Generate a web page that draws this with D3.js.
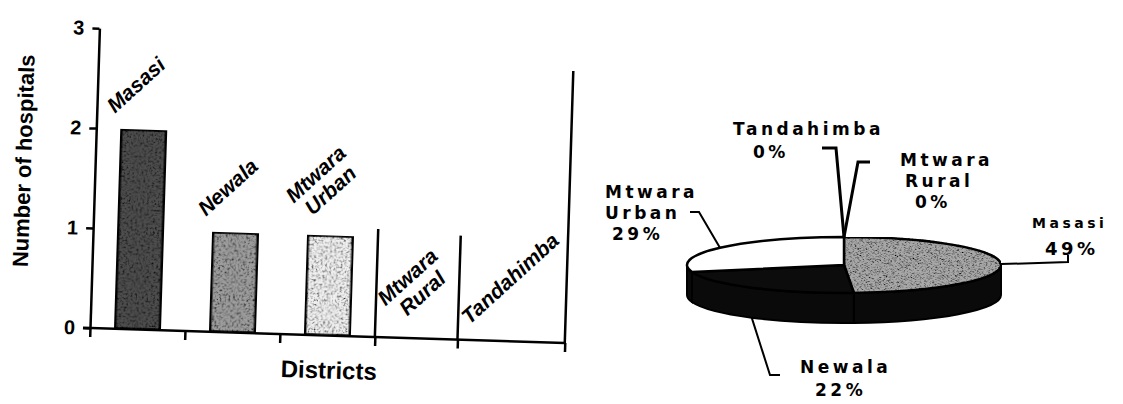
<!DOCTYPE html>
<html lang="en">
<head>
<meta charset="utf-8">
<title>Hospitals by district</title>
<style>
  body { margin: 0; background: #fff; }
  svg { display: block; }
  .axis path, .axis line { stroke: #000; stroke-width: 2.5px; }
  .axis text { font: bold 20px "Liberation Sans", Arial, sans-serif; fill: #000; }
  .bar-label { font: italic bold 21px "Liberation Sans", Arial, sans-serif; fill: #000; }
  .axis-title { font: bold 22px "Liberation Sans", Arial, sans-serif; fill: #000; }
  .pie-label { font-family: "DejaVu Sans", sans-serif; font-weight: bold; letter-spacing: 3.5px; fill: #000; }
</style>
</head>
<body>
<svg width="1123" height="404"></svg>
<script src="https://cdn.jsdelivr.net/npm/d3@7"></script>
<script>

// data
var districts = ["Masasi", "Newala", "Mtwara Urban", "Mtwara Rural", "Tandahimba"];
var hospitals = [2, 1, 1, 0, 0];
var yTicks = [0, 1, 2, 3];
var pieShare = [49, 22, 29, 0, 0];   // % per district, same order

var barFill = ["#4d4d4d", "#9d9d9d", "#f0f0f0", "#fff", "#fff"];
var pieFill = ["#a8a8a8", "#0c0c0c", "#ffffff", "#fff", "#fff"];

var svg = d3.select("svg");
var defs = svg.append("defs");

// speckle texture like the scanned fills
var grain = defs.append("filter").attr("id", "grain")
    .attr("x", 0).attr("y", 0).attr("width", "100%").attr("height", "100%");
grain.append("feTurbulence").attr("type", "fractalNoise")
    .attr("baseFrequency", 0.45).attr("numOctaves", 2).attr("seed", 4).attr("result", "noise");
grain.append("feColorMatrix").attr("in", "noise").attr("type", "matrix")
    .attr("values", "0 0 0 0 0  0 0 0 0 0  0 0 0 0 0  2.6 0 0 0 -1.15").attr("result", "dark");
grain.append("feComposite").attr("in", "dark").attr("in2", "SourceGraphic")
    .attr("operator", "in").attr("result", "speck");
var merge = grain.append("feMerge");
merge.append("feMergeNode").attr("in", "SourceGraphic");
merge.append("feMergeNode").attr("in", "speck");

// ---------- bar chart (scan is tilted a little) ----------
var plotW = 475, plotH = 300;
var g = svg.append("g").attr("transform", "translate(90,328) rotate(1.8)");

var x = d3.scaleBand().domain(districts).range([0, plotW]).paddingInner(0.52).paddingOuter(0.26);
var xb = d3.scaleLinear().domain([0, districts.length]).range([0, plotW]);
var y = d3.scaleLinear().domain([0, 3]).range([0, -plotH]);

// category borders on the x axis (the scan's 4th one sits a bit early)
var borders = [0, 1, 2, 3, 3.87, 5];

g.append("g").attr("class", "axis")
    .call(d3.axisLeft(y).tickValues(yTicks).tickSize(7).tickSizeOuter(0).tickPadding(8).tickFormat(d3.format("d")));

var xAxis = g.append("g").attr("class", "axis")
    .call(d3.axisBottom(xb).tickValues(borders).tickSize(9).tickSizeOuter(0).tickFormat(""));
xAxis.select(".domain").attr("d", "M" + (xb(0) - 7) + ",0H" + xb(districts.length));

// divider lines standing on the axis
[[3, 1.08], [3.87, 1.04], [5, 2.72]].forEach(function(d) {
  g.append("line")
      .attr("x1", xb(d[0])).attr("x2", xb(d[0]))
      .attr("y1", 0).attr("y2", y(d[1]))
      .attr("stroke", "#000").attr("stroke-width", 2.5);
});

g.selectAll(".bar")
    .data(districts.filter(function(d, i) { return hospitals[i] > 0; }))
  .enter().append("rect")
    .attr("class", "bar")
    .attr("x", function(d) { return x(d); })
    .attr("y", function(d) { return y(hospitals[districts.indexOf(d)]); })
    .attr("width", x.bandwidth())
    .attr("height", function(d) { return -y(hospitals[districts.indexOf(d)]); })
    .attr("fill", function(d) { return barFill[districts.indexOf(d)]; })
    .attr("filter", "url(#grain)")
    .attr("stroke", "#000").attr("stroke-width", 3.5);

// slanted category labels above each bar
var ang = 44, lh = 22;
districts.forEach(function(name, i) {
  var lines = name.split(" ");
  var t = g.append("text").attr("class", "bar-label").attr("text-anchor", "middle");
  lines.forEach(function(s, j) {
    t.append("tspan").attr("x", 0)
        .attr("y", -(lines.length - 1) / 2 * lh + j * lh + 7)
        .text(s);
  });
  var w = d3.max(t.selectAll("tspan").nodes(), function(n) { return n.getComputedTextLength(); });
  var h = lines.length * lh;
  var rad = ang * Math.PI / 180;
  var cy = y(hospitals[i]) - 12 - (w / 2 * Math.sin(rad) + h / 2 * Math.cos(rad));
  var cx = x(name) + x.bandwidth() / 2 - 9;
  t.attr("transform", "translate(" + cx + "," + cy + ") rotate(" + (-ang) + ")");
});

g.append("text").attr("class", "axis-title")
    .attr("transform", "translate(-64,-165) rotate(-90)")
    .attr("text-anchor", "middle")
    .text("Number of hospitals");

g.append("text").attr("class", "axis-title")
    .attr("x", 240).attr("y", 43)
    .attr("text-anchor", "middle")
    .style("font-size", "24px")
    .text("Districts");

// ---------- 3D pie ----------
var pcx = 844, pcy = 265, rx = 157, ry = 28, depth = 30;

var pie = d3.pie().sort(null).value(function(d) { return d; });
var arcs = pie(pieShare);
arcs.forEach(function(a, i) { a.name = districts[i]; });

function pt(a, dy) {
  return [pcx + rx * Math.sin(a), pcy - ry * Math.cos(a) + (dy || 0)];
}

// front wall
var side = svg.append("g");
arcs.forEach(function(a) {
  var a0 = Math.max(a.startAngle, Math.PI / 2), a1 = Math.min(a.endAngle, 3 * Math.PI / 2);
  if (a1 <= a0) return;
  var p0 = pt(a0), p1 = pt(a1), p1b = pt(a1, depth), p0b = pt(a0, depth);
  side.append("path")
      .attr("d", "M" + p0 + "A" + rx + "," + ry + " 0 0 1 " + p1 + "L" + p1b +
                 "A" + rx + "," + ry + " 0 0 0 " + p0b + "Z")
      .attr("fill", "#0a0a0a").attr("stroke", "#000").attr("stroke-width", 2);
});

var arc = d3.arc().innerRadius(0).outerRadius(rx);
svg.append("g")
    .attr("transform", "translate(" + pcx + "," + pcy + ") scale(1," + (ry / rx) + ")")
  .selectAll("path")
    .data(arcs.filter(function(d) { return d.value > 0; }))
  .enter().append("path")
    .attr("d", arc)
    .attr("fill", function(d) { return pieFill[d.index]; })
    .attr("filter", function(d) { return d.index === 0 ? "url(#grain)" : null; })
    .attr("stroke", "#000").attr("stroke-width", 2.5)
    .attr("vector-effect", "non-scaling-stroke");

// label placement (leader elbows, line starts, baselines)
var pieLayout = {
  "Masasi":       { leader: [[1068, 262], [1068, 255]], x: [1032, 1045], y: [228, 255], size: [14, 18] },
  "Newala":       { leader: [[770, 375], [780, 375]], x: [800, 815], y: [373, 396] },
  "Mtwara Urban": { leader: [[699, 212], [690, 212]], x: [605, 605, 612], y: [198, 219, 240] },
  "Mtwara Rural": { leader: [[858, 162], [870, 162]], x: [900, 905, 915], y: [166, 187, 208], thick: true },
  "Tandahimba":   { leader: [[836, 148], [822, 148]], x: [733, 753], y: [135, 158], thick: true }
};

var line = d3.line();
arcs.forEach(function(a) {
  var L = pieLayout[a.name];
  var mid = (a.startAngle + a.endAngle) / 2;
  var start = pt(mid, Math.cos(mid) < -0.3 ? depth : 0);
  svg.append("path")
      .attr("d", line([start].concat(L.leader)))
      .attr("fill", "none").attr("stroke", "#000")
      .attr("stroke-width", L.thick ? 3 : 2);

  var lines = a.name.split(" ").concat([a.data + "%"]);
  lines.forEach(function(s, j) {
    svg.append("text").attr("class", "pie-label")
        .attr("x", L.x[j]).attr("y", L.y[j])
        .style("font-size", (L.size ? L.size[j] : 17) + "px")
        .text(s);
  });
});

</script>
</body>
</html>
